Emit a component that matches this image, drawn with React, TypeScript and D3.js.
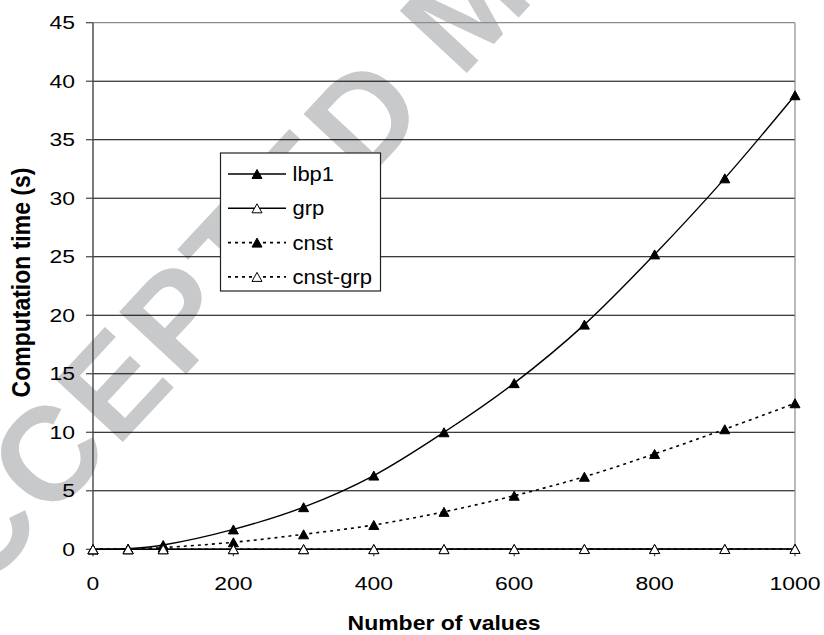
import React from "react";
import * as d3 from "d3";

// values
const xValues = [0, 50, 100, 200, 300, 400, 500, 600, 700, 800, 900, 1000];
const lbp1 = [0, 0.05, 0.37, 1.7, 3.6, 6.3, 10.0, 14.2, 19.2, 25.2, 31.7, 38.8];
const grp = [0, 0, 0.01, 0.01, 0.01, 0.02, 0.02, 0.02, 0.03, 0.03, 0.03, 0.04];
const cnst = [0, 0.02, 0.15, 0.6, 1.28, 2.08, 3.2, 4.58, 6.2, 8.15, 10.26, 12.48];
const cnstGrp = [0, 0, 0, 0.01, 0.01, 0.01, 0.01, 0.02, 0.02, 0.02, 0.02, 0.03];

const seriesNames = ["lbp1", "grp", "cnst", "cnst-grp"];
const xTicks = [0, 200, 400, 600, 800, 1000];
const yTicks = [0, 5, 10, 15, 20, 25, 30, 35, 40, 45];

const W = 824;
const H = 635;
const FONT = "'Liberation Sans', Arial, Helvetica, sans-serif";
const STRETCH = 1.24; // the original figure is stretched sideways

const x = d3.scaleLinear().domain([0, 1000]).range([93, 795]);
const y = d3.scaleLinear().domain([0, 45]).range([549.3, 22.7]);

const series = [
  { name: seriesNames[0], values: lbp1, dash: null, filled: true },
  { name: seriesNames[1], values: grp, dash: null, filled: false },
  { name: seriesNames[2], values: cnst, dash: "3 4", filled: true },
  { name: seriesNames[3], values: cnstGrp, dash: "3 4", filled: false },
];

const tri = (cx: number, cy: number, w = 10, h = 9) =>
  `M${cx},${cy - h / 2}L${cx + w / 2},${cy + h / 2}L${cx - w / 2},${cy + h / 2}Z`;

const line = d3
  .line<[number, number]>()
  .x((d) => x(d[0]))
  .y((d) => y(d[1]))
  .curve(d3.curveCatmullRom);

export default function App() {
  const left = x(0);
  const right = x(1000);
  const top = y(45);
  const bottom = y(0);

  // legend layout
  const lgX = 220.5;
  const lgY = 153;
  const lgW = 160;
  const lgH = 138;
  const rowH = 34.3;

  return (
    <svg
      width={W}
      height={H}
      style={{ position: "absolute", left: 0, top: 0, background: "#fff" }}
      fontFamily={FONT}
    >
      {/* watermark */}
      <text
        transform="translate(-88,668) rotate(-47)"
        fontSize={133}
        fontWeight="bold"
        letterSpacing={4}
        fill="#c8c9cb"
      >
        ACCEPTED MANUSCRIPT
      </text>

      {/* gridlines */}
      {yTicks.slice(1, -1).map((t) => (
        <line key={t} x1={left} x2={right} y1={y(t)} y2={y(t)} stroke="#000" strokeWidth={1} />
      ))}
      {/* plot frame */}
      <line x1={left} x2={right} y1={top} y2={top} stroke="#8c8c8c" strokeWidth={1.2} />
      <line x1={right} x2={right} y1={top} y2={bottom} stroke="#8c8c8c" strokeWidth={1.2} />
      <line x1={left} x2={left} y1={top} y2={bottom} stroke="#444" strokeWidth={1.4} />
      <line x1={left} x2={right} y1={bottom} y2={bottom} stroke="#444" strokeWidth={1.4} />

      {/* y ticks + labels */}
      {yTicks.map((t) => (
        <g key={t}>
          <line x1={left - 7} x2={left} y1={y(t)} y2={y(t)} stroke="#444" strokeWidth={1.2} />
          <g transform={`translate(${left - 18},${y(t) + 6.7}) scale(${STRETCH},1)`}>
            <text fontSize={18.5} textAnchor="end" fill="#000">
              {t}
            </text>
          </g>
        </g>
      ))}

      {/* x ticks + labels */}
      {xTicks.map((t) => (
        <g key={t}>
          <line x1={x(t)} x2={x(t)} y1={bottom} y2={bottom + 7} stroke="#444" strokeWidth={1.2} />
          <g transform={`translate(${x(t)},${bottom + 40.7}) scale(${STRETCH},1)`}>
            <text fontSize={18.5} textAnchor="middle" fill="#000">
              {t}
            </text>
          </g>
        </g>
      ))}

      {/* axis titles */}
      <g transform={`translate(${(left + right) / 2},630) scale(1.15,1)`}>
        <text fontSize={20} fontWeight="bold" textAnchor="middle">
          Number of values
        </text>
      </g>
      <g transform="translate(29.5,282.5) scale(1.12,1) rotate(-90)">
        <text fontSize={23} fontWeight="bold" textAnchor="middle">
          Computation time (s)
        </text>
      </g>

      {/* series */}
      {series.map((s) => {
        const pts = xValues.map((v, i) => [v, s.values[i]] as [number, number]);
        return (
          <g key={s.name}>
            <path
              d={line(pts) || ""}
              fill="none"
              stroke="#000"
              strokeWidth={s.dash ? 1.6 : 1.4}
              strokeDasharray={s.dash || undefined}
            />
            {pts.map((p, i) => (
              <path
                key={i}
                d={tri(x(p[0]), y(p[1]))}
                fill={s.filled ? "#000" : "#fff"}
                stroke="#000"
                strokeWidth={1}
              />
            ))}
          </g>
        );
      })}

      {/* legend */}
      <rect x={lgX} y={lgY} width={lgW} height={lgH} fill="#fff" stroke="#222" strokeWidth={1.2} />
      {series.map((s, i) => {
        const cy = lgY + 21 + i * rowH;
        return (
          <g key={s.name}>
            <line
              x1={lgX + 7.5}
              x2={lgX + 65.5}
              y1={cy}
              y2={cy}
              stroke="#000"
              strokeWidth={s.dash ? 1.6 : 1.4}
              strokeDasharray={s.dash || undefined}
            />
            <path d={tri(lgX + 36.5, cy)} fill={s.filled ? "#000" : "#fff"} stroke="#000" strokeWidth={1} />
            <g transform={`translate(${lgX + 72},${cy + 7}) scale(1.1,1)`}>
              <text fontSize={20} fill="#000">
                {s.name}
              </text>
            </g>
          </g>
        );
      })}
    </svg>
  );
}
